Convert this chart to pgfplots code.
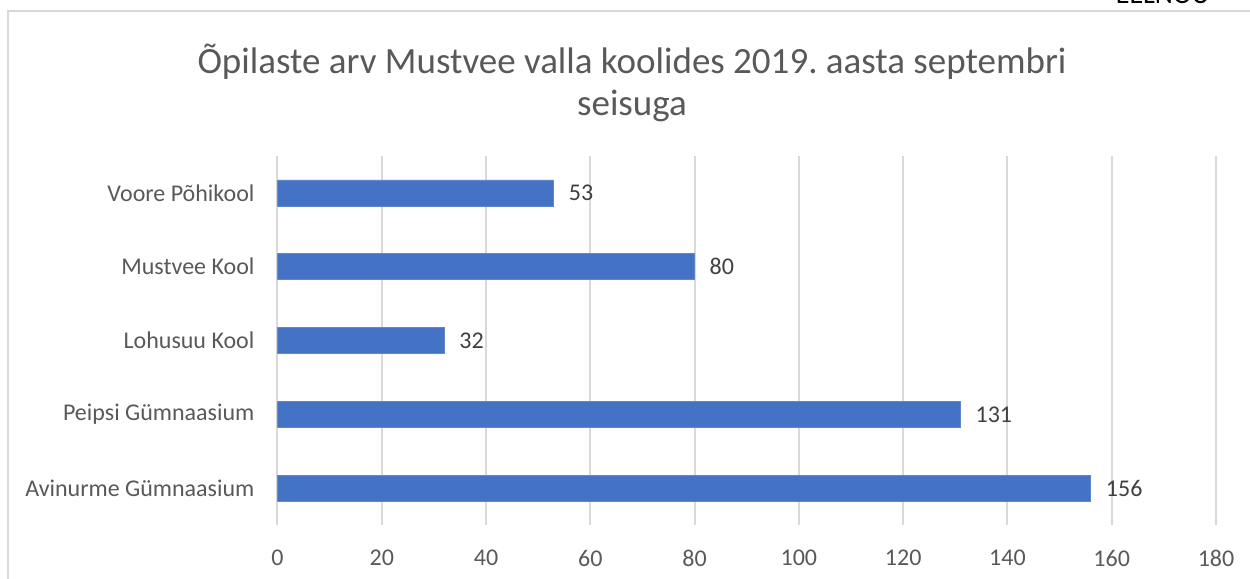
\documentclass[border=0pt]{standalone}
\usepackage{fontspec}
\setmainfont{Carlito}
\usepackage{pgfplots}
\pgfplotsset{compat=1.18}
\definecolor{barblue}{HTML}{4472C4}
\definecolor{gridgray}{HTML}{D9D9D9}
\definecolor{txtgray}{HTML}{595959}
\definecolor{valgray}{HTML}{404040}
\frenchspacing

\begin{document}
\begin{tikzpicture}[x=1pt,y=1pt]
\useasboundingbox (0,0) rectangle (625,289.5);
% chart frame (right and bottom edges lie outside the page)
\draw[gridgray, line width=1pt] (4,-10) -- (4,284) -- (640,284);
\node[anchor=base east, inner sep=0, font=\fontsize{14}{16}\selectfont] at (605,287.5) {EELNÕU};
\node[txtgray, align=center, font=\fontsize{18.5}{21}\selectfont] at (316,248)
  {Õpilaste arv Mustvee valla koolides 2019. aasta septembri\\seisuga};

\begin{axis}[
    at={(138.75pt,27pt)}, anchor=south west,
    width=469.25pt, height=184.5pt, scale only axis,
    xbar, bar width=13pt,
    xmin=0, xmax=180, xtick={0,20,...,180},
    ymin=-0.5, ymax=4.5, ytick={0,1,2,3,4},
    yticklabels={Avinurme Gümnaasium, Peipsi Gümnaasium, Lohusuu Kool, Mustvee Kool, Voore Põhikool},
    axis line style={draw=none},
    major tick length=0pt,
    xmajorgrids,
    grid style={gridgray, line width=1pt},
    /pgf/number format/assume math mode=true,
    tick label style={font=\fontsize{12}{14}\selectfont, text=txtgray},
    xticklabel style={yshift=-9pt},
    yticklabel style={xshift=-8pt},
    nodes near coords,
    every node near coord/.append style={font=\fontsize{12}{14}\selectfont, text=valgray, anchor=west, xshift=4pt},
]
\addplot[fill=barblue, draw=barblue!85!white] coordinates {
    (156,0)
    (131,1)
    (32,2)
    (80,3)
    (53,4)
};
\end{axis}
\end{tikzpicture}
\end{document}
